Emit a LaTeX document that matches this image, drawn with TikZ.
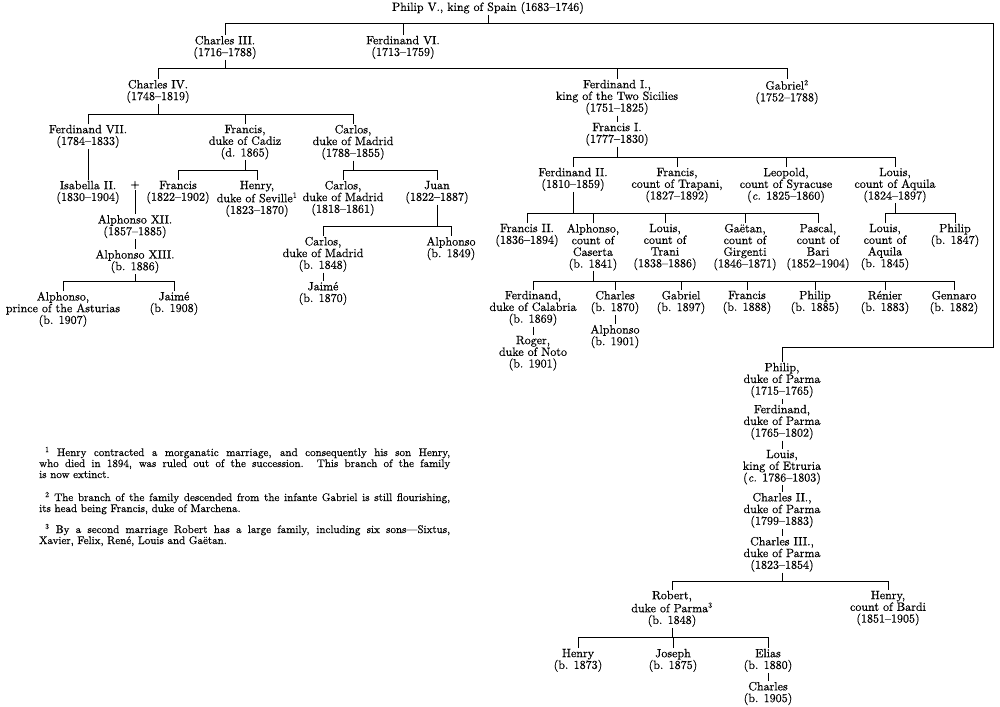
\documentclass[tikz,border=0pt]{standalone}
\usepackage{fontspec}
\setmainfont{lmroman10-regular.otf}[FakeBold=0.45, ItalicFont=lmroman10-italic.otf, BoldFont=lmroman10-bold.otf]
\begin{document}
\begin{tikzpicture}[x=1pt,y=-1pt,
  pn/.style={anchor=north, align=center, inner sep=0.7pt, font=\fontsize{12}{11.7}\selectfont},
  fn/.style={anchor=base west, inner sep=0pt, font=\fontsize{11}{12}\selectfont},
  ln/.style={line width=1pt}]
\useasboundingbox (0,0) rectangle (1000,706);
\fill[white] (0,0) rectangle (1000,706);
% bus coordinates
\coordinate (rt) at (993,24);
\coordinate (rb) at (993,347);
\coordinate (b2) at (0,69);
\coordinate (b3) at (0,115);
\coordinate (b4) at (0,281);
\coordinate (b5) at (0,170);
\coordinate (b6) at (0,226);
\coordinate (b7) at (0,157);
\coordinate (b8) at (0,213);
\coordinate (b9) at (0,281);
\coordinate (b10) at (0,581);
\coordinate (b11) at (0,637);
% nodes
\node[pn] (p5) at (488,1) {Philip V., king of Spain (1683--1746)};
\node[pn] (c3) at (225,35) {Charles III.\\(1716--1788)};
\node[pn] (f6) at (403,35) {Ferdinand VI.\\(1713--1759)};
\node[pn] (c4) at (158,79) {Charles IV.\\(1748--1819)};
\node[pn] (fe1) at (617,79) {Ferdinand I.,\\king of the Two Sicilies\\(1751--1825)};
\node[pn] (gab) at (787,79) {Gabriel\textsuperscript{2}\\(1752--1788)};
\node[pn] (f7) at (88,124) {Ferdinand VII.\\(1784--1833)};
\node[pn] (fc) at (245,124) {Francis,\\duke of Cadiz\\(d. 1865)};
\node[pn] (cm) at (353,124) {Carlos,\\duke of Madrid\\(1788--1855)};
\node[pn] (is2) at (88,180) {Isabella II.\\(1830--1904)};
\node[inner sep=1pt, font=\fontsize{12}{11.7}\selectfont] (plus) at (135,185) {+};
\node[pn] (a12) at (135,214) {Alphonso XII.\\(1857--1885)};
\node[pn] (a13) at (135,249) {Alphonso XIII.\\(b. 1886)};
\node[pn] (ast) at (63,291) {Alphonso,\\prince of the Asturias\\(b. 1907)};
\node[pn] (jai) at (174,291) {Jaimé\\(b. 1908)};
\node[pn] (fr) at (178,180) {Francis\\(1822--1902)};
\node[pn] (hen) at (257,180) {Henry,\\duke of Seville\textsuperscript{1}\\(1823--1870)};
\node[pn] (cm2) at (343,180) {Carlos,\\duke of Madrid\\(1818--1861)};
\node[pn] (juan) at (437,180) {Juan\\(1822--1887)};
\node[pn] (cm3) at (323,236) {Carlos,\\duke of Madrid\\(b. 1848)};
\node[pn] (alp) at (451,236) {Alphonso\\(b. 1849)};
\node[pn] (jai2) at (323,281) {Jaimé\\(b. 1870)};
\node[pn] (fi) at (617,122) {Francis I.\\(1777--1830)};
\node[pn] (f2) at (573,167) {Ferdinand II.\\(1810--1859)};
\node[pn] (trap) at (677,167) {Francis,\\count of Trapani,\\(1827--1892)};
\node[pn] (leo) at (786,167) {Leopold,\\count of Syracuse\\(\textit{c.} 1825--1860)};
\node[pn] (lou) at (895,167) {Louis,\\count of Aquila\\(1824--1897)};
\node[pn] (fr2) at (527,223) {Francis II.\\(1836--1894)};
\node[pn] (alc) at (593,223) {Alphonso,\\count of\\Caserta\\(b. 1841)};
\node[pn] (ltr) at (665,223) {Louis,\\count of\\Trani\\(1838--1886)};
\node[pn] (gae) at (745,223) {Gaëtan,\\count of\\Girgenti\\(1846--1871)};
\node[pn] (pas) at (818,223) {Pascal,\\count of\\Bari\\(1852--1904)};
\node[pn] (lac) at (885,223) {Louis,\\count of\\Aquila\\(b. 1845)};
\node[pn] (phi) at (955,223) {Philip\\(b. 1847)};
\node[pn] (fdc) at (533,290) {Ferdinand,\\duke of Calabria\\(b. 1869)};
\node[pn] (cha) at (615,290) {Charles\\(b. 1870)};
\node[pn] (gbr) at (681,290) {Gabriel\\(b. 1897)};
\node[pn] (fra) at (747,290) {Francis\\(b. 1888)};
\node[pn] (phl) at (815,290) {Philip\\(b. 1885)};
\node[pn] (ren) at (885,290) {Rénier\\(b. 1883)};
\node[pn] (gen) at (954,290) {Gennaro\\(b. 1882)};
\node[pn] (rog) at (533,335) {Roger,\\duke of Noto\\(b. 1901)};
\node[pn] (alf) at (615,324) {Alphonso\\(b. 1901)};
\node[pn] (pp) at (782,362) {Philip,\\duke of Parma\\(1715--1765)};
\node[pn] (fp) at (782,404) {Ferdinand,\\duke of Parma\\(1765--1802)};
\node[pn] (le) at (782,449) {Louis,\\king of Etruria\\(\textit{c.} 1786--1803)};
\node[pn] (c2p) at (782,492) {Charles II.,\\duke of Parma\\(1799--1883)};
\node[pn] (c3p) at (782,536) {Charles III.,\\duke of Parma\\(1823--1854)};
\node[pn] (rob) at (672,590) {Robert,\\duke of Parma\textsuperscript{3}\\(b. 1848)};
\node[pn] (hbar) at (888,590) {Henry,\\count of Bardi\\(1851--1905)};
\node[pn] (hen2) at (578,648) {Henry\\(b. 1873)};
\node[pn] (jos) at (673,648) {Joseph\\(b. 1875)};
\node[pn] (eli) at (768,648) {Elias\\(b. 1880)};
\node[pn] (cha2) at (768,681) {Charles\\(b. 1905)};
% footnotes
\node[fn] (n1a) at (45,456) {\makebox[405pt][s]{\textsuperscript{1} Henry contracted a morganatic marriage, and consequently his son Henry,}};
\node[fn] (n1b) at (39,467) {\makebox[411pt][s]{who died in 1894, was ruled out of the succession.\hspace{1.2em}This branch of the family}};
\node[fn] (n1c) at (39,478) {is now extinct.};
\node[fn] (n2a) at (45,501) {\makebox[405pt][s]{\textsuperscript{2} The branch of the family descended from the infante Gabriel is still flourishing,}};
\node[fn] (n2b) at (39,512) {its head being Francis, duke of Marchena.};
\node[fn] (n3a) at (45,533) {\makebox[405pt][s]{\textsuperscript{3} By a second marriage Robert has a large family, including six sons---Sixtus,}};
\node[fn] (n3b) at (39,544) {Xavier, Felix, René, Louis and Gaëtan.};
% connectors
\draw[ln] (p5.south) -- (p5.south |- rt);
\draw[ln] (c3.north) |- (rt) -- (rb) -| (pp.north);
\draw[ln] (f6.north) -- (f6.north |- rt);
% Charles III family
\draw[ln] (c3.south) -- (c3.south |- b2);
\draw[ln] (c4.north) |- (gab.north |- b2) -- (gab.north);
\draw[ln] (fe1.north) -- (fe1.north |- b2);
% Charles IV family
\draw[ln] (c4.south) -- (c4.south |- b3);
\draw[ln] (f7.north) |- (cm.north |- b3) -- (cm.north);
\draw[ln] (fc.north) -- (fc.north |- b3);
\draw[ln] (f7.south) -- (is2.north);
\draw[ln] (plus.south) -- (a12.north);
\draw[ln] (a12.south) -- (a13.north);
\draw[ln] (a13.south) -- (a13.south |- b4);
\draw[ln] (ast.north) |- (jai.north |- b4) -- (jai.north);
% Francis duke of Cadiz
\draw[ln] (fc.south) -- (fc.south |- b5);
\draw[ln] (fr.north) |- (hen.north |- b5) -- (hen.north);
% Carlos duke of Madrid
\draw[ln] (cm.south) -- (cm.south |- b5);
\draw[ln] (cm2.north) |- (juan.north |- b5) -- (juan.north);
\draw[ln] (juan.south) -- (juan.south |- b6);
\draw[ln] (cm3.north) |- (alp.north |- b6) -- (alp.north);
\draw[ln] (cm3.south) -- (jai2.north);
% Two Sicilies
\draw[ln] (fe1.south) -- (fi.north);
\draw[ln] (fi.south) -- (fi.south |- b7);
\draw[ln] (f2.north) |- (lou.north |- b7) -- (lou.north);
\draw[ln] (trap.north) -- (trap.north |- b7);
\draw[ln] (leo.north) -- (leo.north |- b7);
\draw[ln] (f2.south) -- (f2.south |- b8);
\draw[ln] (fr2.north) |- (pas.north |- b8) -- (pas.north);
\draw[ln] (alc.north) -- (alc.north |- b8);
\draw[ln] (ltr.north) -- (ltr.north |- b8);
\draw[ln] (gae.north) -- (gae.north |- b8);
\draw[ln] (lou.south) -- (lou.south |- b8);
\draw[ln] (lac.north) |- (phi.north |- b8) -- (phi.north);
\draw[ln] (alc.south) -- (alc.south |- b9);
\draw[ln] (fdc.north) |- (gen.north |- b9) -- (gen.north);
\draw[ln] (cha.north) -- (cha.north |- b9);
\draw[ln] (gbr.north) -- (gbr.north |- b9);
\draw[ln] (fra.north) -- (fra.north |- b9);
\draw[ln] (phl.north) -- (phl.north |- b9);
\draw[ln] (ren.north) -- (ren.north |- b9);
\draw[ln] (fdc.south) -- (rog.north);
\draw[ln] (cha.south) -- (alf.north);
% Parma
\draw[ln] (pp.south) -- (fp.north);
\draw[ln] (fp.south) -- (le.north);
\draw[ln] (le.south) -- (c2p.north);
\draw[ln] (c2p.south) -- (c3p.north);
\draw[ln] (c3p.south) -- (c3p.south |- b10);
\draw[ln] (rob.north) |- (hbar.north |- b10) -- (hbar.north);
\draw[ln] (rob.south) -- (rob.south |- b11);
\draw[ln] (hen2.north) |- (eli.north |- b11) -- (eli.north);
\draw[ln] (jos.north) -- (jos.north |- b11);
\draw[ln] (eli.south) -- (cha2.north);
\end{tikzpicture}
\end{document}
